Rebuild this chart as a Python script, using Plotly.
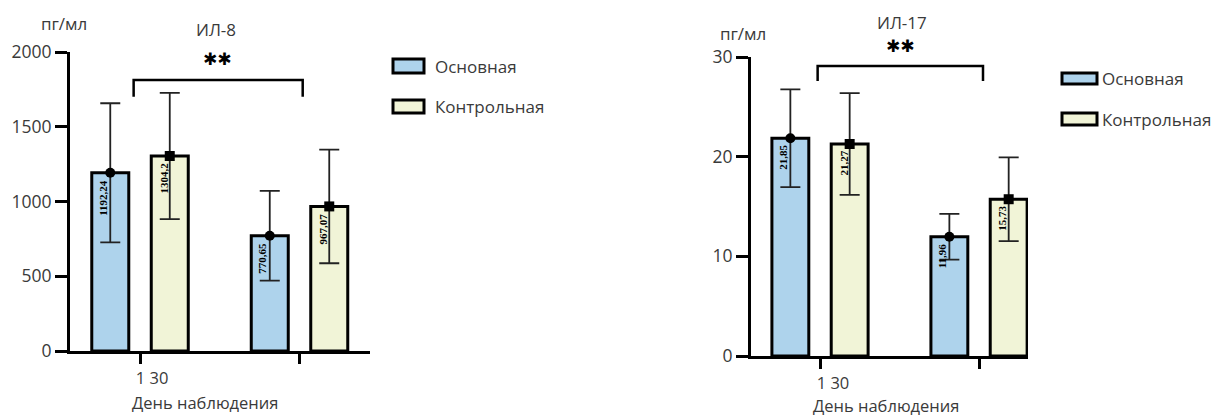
import plotly.graph_objects as go

# Observation days and group names
days = ["1", "30"]
day_tick_text = ["1 30", ""]
groups = ["Основная", "Контрольная"]

# ИЛ-8, pg/ml: means and standard deviations per group
il8_main = [1192.24, 770.65]
il8_main_sd = [465, 300]
il8_ctrl = [1304.2, 967.07]
il8_ctrl_sd = [422, 380]

# ИЛ-17, pg/ml
il17_main = [21.85, 11.96]
il17_main_sd = [4.9, 2.3]
il17_ctrl = [21.27, 15.73]
il17_ctrl_sd = [5.1, 4.2]

# Significance brackets (height of bar, height of legs) per panel
il8_bracket = [1813, 1700]
il17_bracket = [29.1, 27.6]

W, H = 1219, 416
FILL = {"Основная": "#AED3EC", "Контрольная": "#F1F4D7"}
SYMBOL = {"Основная": "circle", "Контрольная": "square"}
TEXT_SHIFT = {"Основная": -37, "Контрольная": 23}
FONT = "Open Sans"
GREY = "#3a3a3a"
TXT = 17


def px_x(p):
    return p / W


def px_y(p):
    return 1 - p / H


def fmt(v):
    return ("%g" % v).replace(".", ",")


fig = go.Figure()

panels = [
    ("x", "y", {"Основная": (il8_main, il8_main_sd), "Контрольная": (il8_ctrl, il8_ctrl_sd)}),
    ("x2", "y2", {"Основная": (il17_main, il17_main_sd), "Контрольная": (il17_ctrl, il17_ctrl_sd)}),
]

annotations = []
for xa, ya, data in panels:
    for g in groups:
        vals, sd = data[g]
        fig.add_trace(go.Bar(
            x=days, y=vals, name=g, xaxis=xa, yaxis=ya, offsetgroup=g,
            marker=dict(color=FILL[g], line=dict(color="black", width=3)),
            showlegend=False, hoverinfo="skip",
        ))
    for g in groups:
        vals, sd = data[g]
        fig.add_trace(go.Scatter(
            x=days, y=vals, name=g, xaxis=xa, yaxis=ya, mode="markers",
            orientation="v", offsetgroup=g,
            marker=dict(symbol=SYMBOL[g], size=10, color="black"),
            error_y=dict(type="data", array=sd, color="#222222", thickness=1.8, width=10),
            showlegend=False, hoverinfo="skip",
        ))
        # value labels inside the bars (category index used as position)
        for i, v in enumerate(vals):
            annotations.append(dict(
                x=i, y=v, xref=xa, yref=ya, text=fmt(v), showarrow=False,
                textangle=-90, xanchor="center", yanchor="top",
                xshift=TEXT_SHIFT[g], yshift=-5,
                font=dict(family="Liberation Serif", size=11, color="black", weight="bold"),
            ))

# significance brackets
shapes = []
for xa, ya, (top, leg), (x0, x1) in [
    ("x", "y", il8_bracket, (-0.04, 1.02)),
    ("x2", "y2", il17_bracket, (-0.015, 1.025)),
]:
    shapes.append(dict(
        type="path", xref=xa, yref=ya,
        path=f"M {x0},{leg} L {x0},{top} L {x1},{top} L {x1},{leg}",
        line=dict(color="black", width=2.5),
    ))

# plain text labels (paper coordinates)
labels = [
    ("пг/мл", 64, 23, TXT), ("ИЛ-8", 216, 30, TXT), ("День наблюдения", 205, 402, 16.5),
    ("пг/мл", 743, 33, TXT), ("ИЛ-17", 902, 22, TXT), ("День наблюдения", 886, 405, 16.5),
]
for txt, x, y, s in labels:
    annotations.append(dict(
        x=px_x(x), y=px_y(y), xref="paper", yref="paper", text=txt,
        showarrow=False, xanchor="center", yanchor="middle",
        font=dict(family=FONT, size=s, color=GREY),
    ))

# significance marks
for x, y in [(217, 59), (900, 46)]:
    annotations.append(dict(
        x=px_x(x), y=px_y(y), xref="paper", yref="paper", text="✱✱",
        showarrow=False, xanchor="center", yanchor="middle",
        font=dict(family="DejaVu Sans", size=17, color="black"),
    ))

# legends drawn as boxes with captions
legend_items = [
    (393, 424, 59, 73, 433, "Основная"),
    (393, 424, 100, 113, 433, "Контрольная"),
    (1062, 1097, 73, 84, 1100, "Основная"),
    (1062, 1097, 113, 125, 1100, "Контрольная"),
]
for x0, x1, y0, y1, tx, g in legend_items:
    shapes.append(dict(
        type="rect", xref="paper", yref="paper",
        x0=px_x(x0), x1=px_x(x1), y0=px_y(y1), y1=px_y(y0),
        fillcolor=FILL[g], line=dict(color="black", width=3),
    ))
    annotations.append(dict(
        x=px_x(tx), y=px_y((y0 + y1) / 2), xref="paper", yref="paper", text=g,
        showarrow=False, xanchor="left", yanchor="middle",
        font=dict(family=FONT, size=TXT, color=GREY),
    ))

axis_common = dict(showgrid=False, zeroline=False, showline=True, automargin=False,
                   linecolor="black", linewidth=3, ticks="outside",
                   tickcolor="black", tickwidth=3)
yfont = dict(family=FONT, size=17.5, color=GREY)
xfont = dict(family=FONT, size=16.5, color=GREY)

fig.update_layout(
    width=W, height=H, autosize=False,
    margin=dict(l=0, r=0, t=0, b=0, pad=0, autoexpand=False),
    plot_bgcolor="white", paper_bgcolor="white",
    barmode="group", bargap=0.254, bargroupgap=0.378,
    scattermode="group", scattergap=0.254,
    showlegend=False,
    xaxis=dict(domain=[px_x(70), px_x(370)], range=[-0.439, 1.442], anchor="y",
               tickvals=days, ticktext=day_tick_text, ticklen=10, ticklabelshift=12,
               tickfont=xfont, **axis_common),
    yaxis=dict(domain=[px_y(351), px_y(52)], range=[0, 2000], anchor="x",
               tickvals=[0, 500, 1000, 1500, 2000], ticklen=12, tickfont=yfont,
               **axis_common),
    xaxis2=dict(domain=[px_x(751), px_x(1028)], range=[-0.434, 1.308], anchor="y2",
                tickvals=days, ticktext=day_tick_text, ticklen=10, ticklabelshift=13,
                tickfont=xfont, **axis_common),
    yaxis2=dict(domain=[px_y(356), px_y(57)], range=[0, 30], anchor="x2",
                tickvals=[0, 10, 20, 30], ticklen=12, tickfont=yfont, **axis_common),
    shapes=shapes, annotations=annotations,
)

fig.write_html("out.html")
